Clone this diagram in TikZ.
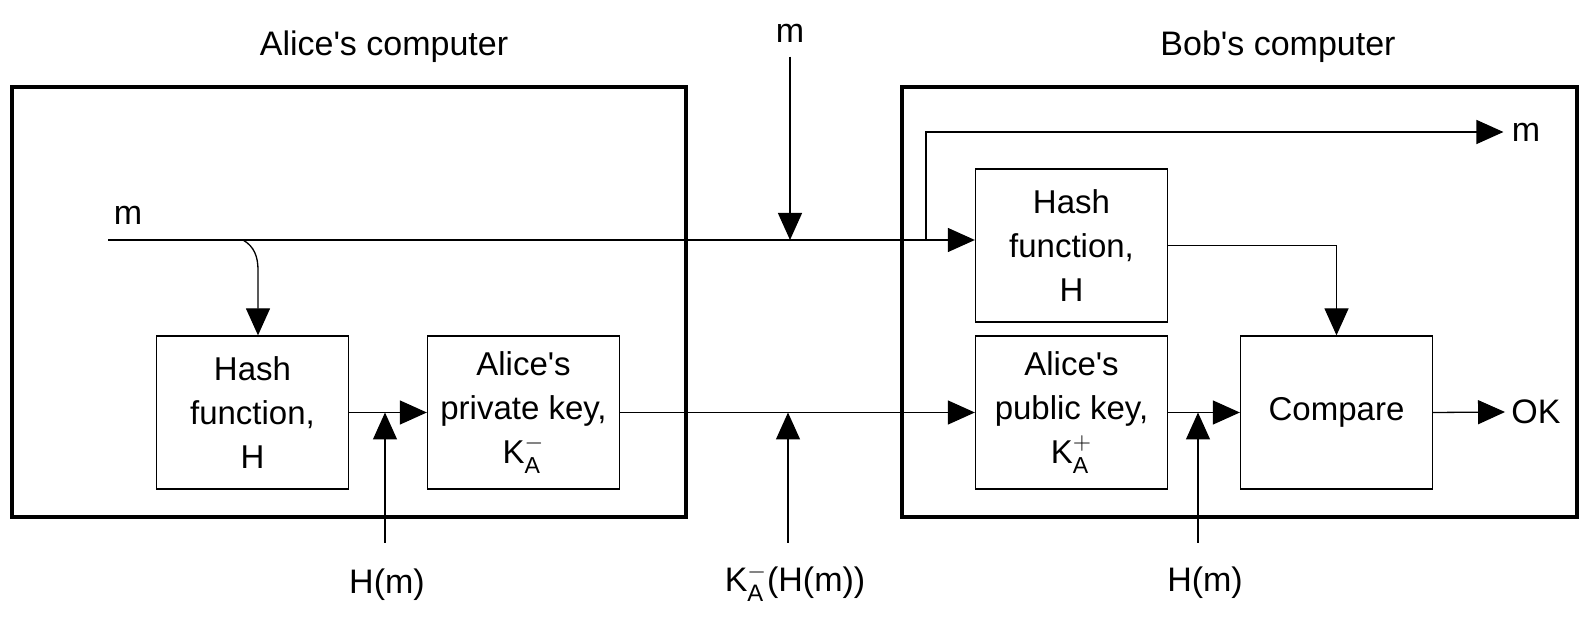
\documentclass[tikz,border=0pt]{standalone}
\usepackage{amsmath}
\usepackage{fontspec}
\setmainfont{Liberation Sans}
\usetikzlibrary{arrows.meta}
\newcommand{\apos}{\textquotesingle}

\begin{document}
\begin{tikzpicture}[x=0.5pt,y=-0.5pt,
    blk/.style={draw,line width=0.65pt,minimum width=96pt,minimum height=76.5pt,
        inner sep=0pt,align=center,font=\fontsize{16.5}{22}\selectfont},
    frame/.style={draw,line width=2pt},
    lbl/.style={inner sep=0pt,font=\fontsize{17}{20}\selectfont},
    arr/.style={line width=0.65pt,-{Triangle[length=13.5pt,width=12pt]}}]
\useasboundingbox (0,0) rectangle (1595,624);
%\draw [help lines,step=100] (0,0) grid (1595,624);
\draw [frame] (12,87) rectangle (686,517);
\draw [frame] (902,87) rectangle (1577,517);
\node [lbl] (alice) at (384,47) {Alice\apos s computer};
\node [lbl] (bob) at (1278,47) {Bob\apos s computer};

\node [blk] (ahash) at (252.5,412.5) {Hash\\function,\\H};
\node [blk] (apriv) at (523.5,412.5) {Alice\apos s\\private key,\\K$^{-}_{\text{A}}$};
\node [blk] (bhash) at (1071.5,245.5) {Hash\\function,\\H};
\node [blk] (bpub) at (1071.5,412.5) {Alice\apos s\\public key,\\K$^{+}_{\text{A}}$};
\node [blk] (cmp) at (1336.5,412.5) {Compare};

% message m
\node [lbl] (mleft) at (128,215) {m};
\coordinate (min) at (108,240);
\coordinate (afork) at (243,240);
\coordinate (bfork) at (926,240);
\draw [arr] (min) -- (min -| bhash.west);
\draw [arr] (afork) to[out=-30,in=90] ++(15,30) -- ([xshift=2.75pt]ahash.north);
\node [lbl] (mout) at (1526,132) {m};
\draw [arr] (bfork) |- ([xshift=-4pt]mout.west);
\node [lbl] (mtop) at (790,33) {m};
\draw [arr] ([yshift=-7pt]mtop.south) -- (mtop.south |- min);

% signature path
\draw [arr] (ahash.east) -- (apriv.west);
\draw [arr] (apriv.east) -- (bpub.west);
\draw [arr] (bpub.east) -- (cmp.west);
\draw [arr] (bhash.east) -| (cmp.north);
\node [lbl] (ok) at (1536,412) {OK};
\draw [arr] (cmp.east) -- ([xshift=-3pt]ok.west);

% inputs from below
\node [lbl] (hma) at (387,585) {H(m)};
\node [lbl] (sig) at (795,583) {K$^{-}_{\text{A}}$(H(m))};
\node [lbl] (hmb) at (1205,583) {H(m)};
\coordinate (hmafoot) at (385,543);
\coordinate (sigfoot) at (788,543);
\coordinate (hmbfoot) at (1198,543);
\draw [arr] (hmafoot) -- (hmafoot |- ahash.east);
\draw [arr] (sigfoot) -- (sigfoot |- apriv.east);
\draw [arr] (hmbfoot) -- (hmbfoot |- bpub.east);
\end{tikzpicture}
\end{document}
